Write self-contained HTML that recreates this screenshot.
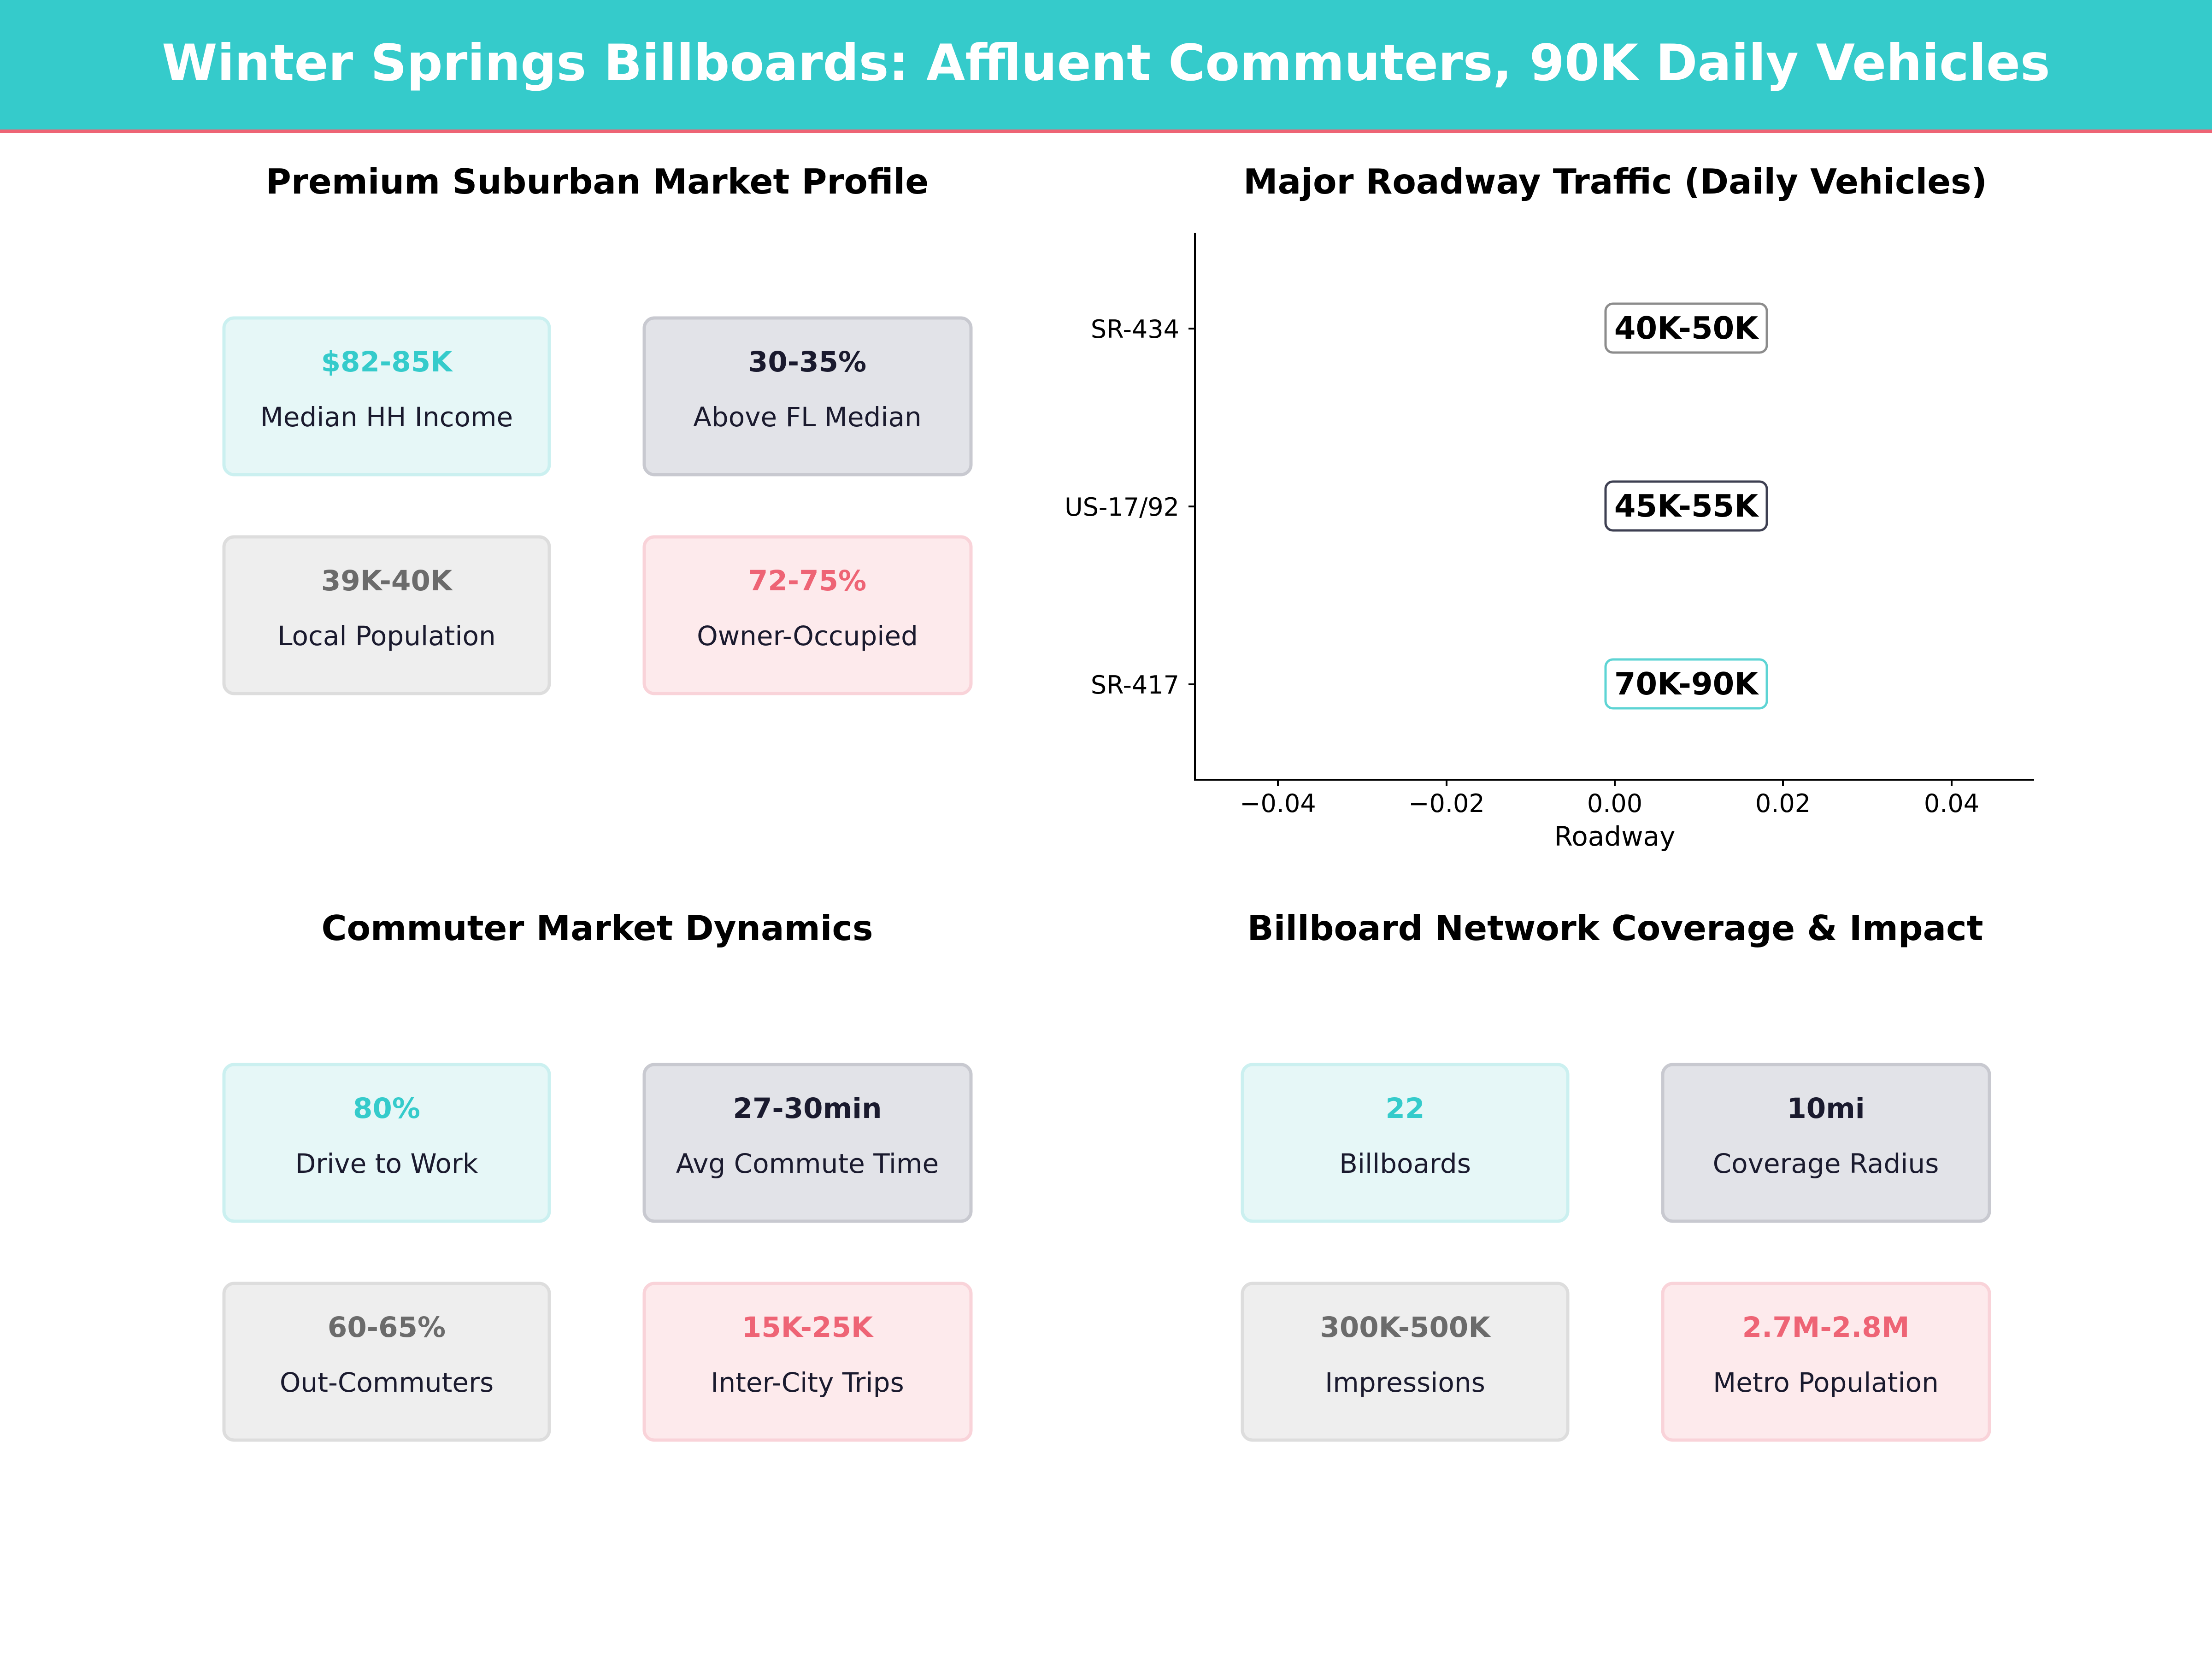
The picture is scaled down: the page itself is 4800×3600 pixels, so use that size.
<!DOCTYPE html>
<html><head><meta charset="utf-8"><style>
html,body{margin:0;padding:0;background:#fff;}
svg{display:block;}
text{font-family:"DejaVu Sans","Liberation Sans",sans-serif;}
</style></head><body>
<svg width="4800" height="3600" viewBox="0 0 4800 3600" xmlns="http://www.w3.org/2000/svg">
<rect width="4800" height="3600" fill="#fff"/>
<rect x="0" y="0" width="4800" height="282" fill="#35CBCB"/>
<rect x="0" y="281" width="4800" height="8" fill="#EE6475"/>
<text x="2400" y="174" font-size="109" font-weight="bold" fill="#fff" text-anchor="middle">Winter Springs Billboards: Affluent Commuters, 90K Daily Vehicles</text>

<g font-weight="bold" font-size="75" text-anchor="middle" fill="#000">
<text x="1296" y="420">Premium Suburban Market Profile</text>
<text x="3505" y="420">Major Roadway Traffic (Daily Vehicles)</text>
<text x="1296" y="2040">Commuter Market Dynamics</text>
<text x="3505" y="2040">Billboard Network Coverage &amp; Impact</text>
</g>

<g text-anchor="middle">
<rect x="486" y="690" width="706" height="340" rx="22" fill="#E6F7F7" stroke="#CBF0F0" stroke-width="7"/>
<text x="839" y="806" font-size="61" font-weight="bold" fill="#35CBCB">$82-85K</text>
<text x="839" y="925" font-size="58" fill="#1A1A2E">Median HH Income</text>
<rect x="1398" y="690" width="709" height="340" rx="22" fill="#E2E3E8" stroke="#C8C9D0" stroke-width="7"/>
<text x="1752" y="806" font-size="61" font-weight="bold" fill="#1A1A2E">30-35%</text>
<text x="1752" y="925" font-size="58" fill="#1A1A2E">Above FL Median</text>
<rect x="486" y="1165" width="706" height="340" rx="22" fill="#EEEEEE" stroke="#DDDDDD" stroke-width="7"/>
<text x="839" y="1281" font-size="61" font-weight="bold" fill="#6B6B6B">39K-40K</text>
<text x="839" y="1400" font-size="58" fill="#1A1A2E">Local Population</text>
<rect x="1398" y="1165" width="709" height="340" rx="22" fill="#FDEAEC" stroke="#F9D3D9" stroke-width="7"/>
<text x="1752" y="1281" font-size="61" font-weight="bold" fill="#EE6475">72-75%</text>
<text x="1752" y="1400" font-size="58" fill="#1A1A2E">Owner-Occupied</text>

<rect x="486" y="2310" width="706" height="340" rx="22" fill="#E6F7F7" stroke="#CBF0F0" stroke-width="7"/>
<text x="839" y="2426" font-size="61" font-weight="bold" fill="#35CBCB">80%</text>
<text x="839" y="2545" font-size="58" fill="#1A1A2E">Drive to Work</text>
<rect x="1398" y="2310" width="709" height="340" rx="22" fill="#E2E3E8" stroke="#C8C9D0" stroke-width="7"/>
<text x="1752" y="2426" font-size="61" font-weight="bold" fill="#1A1A2E">27-30min</text>
<text x="1752" y="2545" font-size="58" fill="#1A1A2E">Avg Commute Time</text>
<rect x="486" y="2785" width="706" height="340" rx="22" fill="#EEEEEE" stroke="#DDDDDD" stroke-width="7"/>
<text x="839" y="2901" font-size="61" font-weight="bold" fill="#6B6B6B">60-65%</text>
<text x="839" y="3020" font-size="58" fill="#1A1A2E">Out-Commuters</text>
<rect x="1398" y="2785" width="709" height="340" rx="22" fill="#FDEAEC" stroke="#F9D3D9" stroke-width="7"/>
<text x="1752" y="2901" font-size="61" font-weight="bold" fill="#EE6475">15K-25K</text>
<text x="1752" y="3020" font-size="58" fill="#1A1A2E">Inter-City Trips</text>

<rect x="2696" y="2310" width="706" height="340" rx="22" fill="#E6F7F7" stroke="#CBF0F0" stroke-width="7"/>
<text x="3049" y="2426" font-size="61" font-weight="bold" fill="#35CBCB">22</text>
<text x="3049" y="2545" font-size="58" fill="#1A1A2E">Billboards</text>
<rect x="3608" y="2310" width="709" height="340" rx="22" fill="#E2E3E8" stroke="#C8C9D0" stroke-width="7"/>
<text x="3962" y="2426" font-size="61" font-weight="bold" fill="#1A1A2E">10mi</text>
<text x="3962" y="2545" font-size="58" fill="#1A1A2E">Coverage Radius</text>
<rect x="2696" y="2785" width="706" height="340" rx="22" fill="#EEEEEE" stroke="#DDDDDD" stroke-width="7"/>
<text x="3049" y="2901" font-size="61" font-weight="bold" fill="#6B6B6B">300K-500K</text>
<text x="3049" y="3020" font-size="58" fill="#1A1A2E">Impressions</text>
<rect x="3608" y="2785" width="709" height="340" rx="22" fill="#FDEAEC" stroke="#F9D3D9" stroke-width="7"/>
<text x="3962" y="2901" font-size="61" font-weight="bold" fill="#EE6475">2.7M-2.8M</text>
<text x="3962" y="3020" font-size="58" fill="#1A1A2E">Metro Population</text>
</g>

<g stroke="#000" stroke-width="4">
<line x1="2593" y1="505" x2="2593" y2="1692"/>
<line x1="2591" y1="1692" x2="4414" y2="1692"/>
<line x1="2579" y1="713" x2="2593" y2="713"/>
<line x1="2579" y1="1099" x2="2593" y2="1099"/>
<line x1="2579" y1="1485" x2="2593" y2="1485"/>
<line x1="2773" y1="1692" x2="2773" y2="1706"/>
<line x1="3139" y1="1692" x2="3139" y2="1706"/>
<line x1="3504" y1="1692" x2="3504" y2="1706"/>
<line x1="3869" y1="1692" x2="3869" y2="1706"/>
<line x1="4235" y1="1692" x2="4235" y2="1706"/>
</g>
<g font-size="54" fill="#000">
<text x="2559" y="733" text-anchor="end">SR-434</text>
<text x="2559" y="1119" text-anchor="end">US-17/92</text>
<text x="2559" y="1505" text-anchor="end">SR-417</text>
<text x="2773" y="1762" text-anchor="middle">−0.04</text>
<text x="3139" y="1762" text-anchor="middle">−0.02</text>
<text x="3504" y="1762" text-anchor="middle">0.00</text>
<text x="3869" y="1762" text-anchor="middle">0.02</text>
<text x="4235" y="1762" text-anchor="middle">0.04</text>
<text x="3504" y="1835" text-anchor="middle" font-size="58">Roadway</text>
</g>
<g font-size="67" font-weight="bold" text-anchor="middle" fill="#000">
<rect x="3484" y="659" width="350" height="106" rx="16" fill="#fff" stroke="#8C8C8C" stroke-width="5"/>
<text x="3659" y="735">40K-50K</text>
<rect x="3484" y="1045" width="350" height="106" rx="16" fill="#fff" stroke="#3E4052" stroke-width="5"/>
<text x="3659" y="1121">45K-55K</text>
<rect x="3484" y="1431" width="350" height="106" rx="16" fill="#fff" stroke="#5ED4D4" stroke-width="5"/>
<text x="3659" y="1507">70K-90K</text>
</g>
</svg>
</body></html>
